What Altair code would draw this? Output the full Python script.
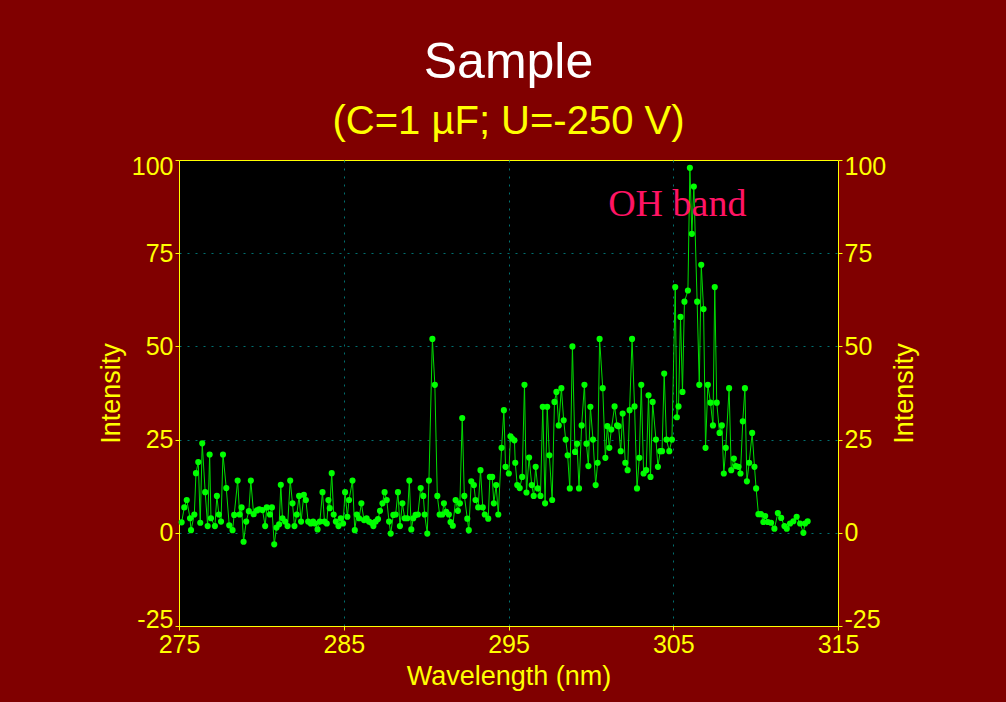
import altair as alt
import pandas as pd

wavelength = [
    275.16, 275.32, 275.47, 275.67, 275.73, 275.93, 276.03, 276.17, 276.29, 276.41,
    276.59, 276.74, 276.86, 276.94, 277.18, 277.30, 277.42, 277.55, 277.67, 277.87,
    278.05, 278.25, 278.35, 278.56, 278.68, 278.80, 278.92, 279.08, 279.24, 279.36,
    279.53, 279.73, 279.87, 280.07, 280.23, 280.33, 280.52, 280.64, 280.78, 280.92,
    281.08, 281.18, 281.28, 281.44, 281.59, 281.75, 281.89, 282.01, 282.15, 282.29,
    282.41, 282.58, 282.70, 282.84, 283.00, 283.14, 283.26, 283.41, 283.55, 283.71,
    283.83, 283.97, 284.07, 284.15, 284.27, 284.39, 284.52, 284.68, 284.82, 284.96,
    285.08, 285.22, 285.32, 285.53, 285.67, 285.79, 285.93, 286.07, 286.23, 286.39,
    286.53, 286.68, 286.80, 286.94, 287.08, 287.20, 287.35, 287.48, 287.61, 287.75,
    287.85, 288.01, 288.15, 288.29, 288.41, 288.56, 288.70, 288.86, 288.98, 289.10,
    289.22, 289.36, 289.50, 289.67, 289.83, 289.91, 290.07, 290.17, 290.38, 290.53,
    290.68, 290.82, 290.98, 291.08, 291.22, 291.38, 291.48, 291.62, 291.79, 291.93,
    292.05, 292.19, 292.32, 292.50, 292.59, 292.74, 292.90, 293.00, 293.16, 293.30,
    293.44, 293.56, 293.77, 293.87, 294.01, 294.11, 294.25, 294.38, 294.58, 294.72,
    294.82, 295.02, 295.12, 295.22, 295.36, 295.41, 295.53, 295.68, 295.83, 295.97,
    296.09, 296.25, 296.41, 296.53, 296.65, 296.78, 296.94, 297.08, 297.22, 297.35,
    297.48, 297.65, 297.79, 297.91, 298.05, 298.21, 298.35, 298.47, 298.59, 298.72,
    298.88, 299.04, 299.16, 299.28, 299.44, 299.61, 299.73, 299.85, 299.97, 300.13,
    300.29, 300.41, 300.53, 300.72, 300.88, 301.00, 301.12, 301.24, 301.44, 301.59,
    301.68, 301.81, 301.93, 302.09, 302.23, 302.35, 302.50, 302.65, 302.80, 302.94,
    303.06, 303.20, 303.36, 303.50, 303.62, 303.75, 303.95, 304.07, 304.21, 304.32,
    304.45, 304.59, 304.76, 304.92, 305.12, 305.22, 305.32, 305.44, 305.56, 305.68,
    305.89, 306.01, 306.13, 306.25, 306.45, 306.58, 306.70, 306.84, 306.96, 307.10,
    307.26, 307.41, 307.52, 307.64, 307.81, 307.95, 308.07, 308.19, 308.39, 308.52,
    308.68, 308.80, 308.96, 309.08, 309.22, 309.35, 309.47, 309.61, 309.79, 309.93,
    310.03, 310.17, 310.33, 310.47, 310.58, 310.74, 310.94, 311.14, 311.35, 311.55,
    311.75, 311.89, 312.09, 312.29, 312.49, 312.70, 312.90, 313.00, 313.16,
]

intensity = [
    2.8, 6.8, 8.8, 3.9, 0.7, 4.9, 16, 19, 2.7, 24,
    10.9, 1.8, 21, 3.9, 1.8, 9.9, 4.9, 3, 21, 12,
    2, 0.7, 4.8, 14, 4.9, 6.8, -2.4, 3, 5.8, 14,
    5, 6, 6.3, 6.1, 1.8, 6.8, 4.9, 6.8, -3.1, 1.4,
    2.3, 12.9, 3.9, 3, 1.8, 14, 7.9, 1.8, 4.9, 9.9,
    3, 10.2, 8.8, 3, 2.5, 3, 2.5, 0.9, 3, 10.9,
    3, 2.5, 8.8, 6.6, 16, 4.9, 3, 1.8, 3.9, 2.5,
    10.9, 4.3, 8.8, 14, 0.7, 4.9, 3.9, 7.9, 3.4, 3.9,
    3, 2.7, 1.8, 3, 3.7, 5.9, 7.9, 10.9, 8.8, 3,
    -0.2, 4.8, 4.9, 10.9, 1.8, 7.9, 3.9, 3.9, 14, 0.9,
    3.9, 4.8, 4.9, 12, 9.9, 4.9, -0.2, 14, 52, 39.7,
    9.9, 4.9, 4.9, 7.9, 5.6, 4.9, 2.9, 1.9, 8.8, 5.9,
    7.9, 30.8, 9.9, 3.8, 0.7, 13.8, 12.8, 8.8, 6.8, 16.8,
    6.8, 4.9, 3.8, 15, 15, 7.9, 12.8, 4.9, 22.8, 32.9,
    17.7, 15.9, 25.9, 25.3, 24.8, 18.8, 12.8, 12, 15, 39.7,
    10.8, 20.2, 12.8, 9.9, 17.7, 11.9, 9.9, 33.8, 7.9, 33.8,
    20.8, 8.8, 35.1, 37.8, 28.8, 38.8, 30.2, 25, 20.8, 11.9,
    50, 21.7, 23.9, 11.9, 28.8, 39.7, 23.9, 17.9, 33.8, 25,
    12.8, 18.8, 52, 38.8, 20.1, 28.6, 22.8, 27.7, 33.9, 28.8,
    28.6, 21.9, 32, 18.8, 16.8, 32.9, 52, 33.9, 11.9, 20.1,
    39.7, 15.9, 16.8, 36.9, 15, 35.1, 25, 17.7, 21.9, 21.9,
    42.7, 25, 21.9, 25, 65.9, 31, 33.9, 57.9, 37.8, 62,
    65, 97.9, 80.2, 92.9, 62, 39.7, 71.9, 60, 22.8, 39.7,
    34.9, 28.8, 65.9, 34.9, 26.8, 28.8, 15.9, 22.8, 38.8, 16.8,
    19.9, 17.9, 17.7, 15.9, 29.9, 38.8, 13.8, 18.8, 26.8, 17.7,
    11.9, 5, 5, 2.9, 4.5, 2.9, 2.7, 1.1, 5.3, 4,
    1.8, 1.1, 2.5, 3.1, 4.3, 2.5, 0, 2.5, 3.1,
]

x_ticks = [275, 285, 295, 305, 315]
y_ticks = [-25, 0, 25, 50, 75, 100]

annotation_text = ["OH band"]
annotation_x = [301.05]
annotation_y = [85]

df = pd.DataFrame({"wavelength": wavelength, "intensity": intensity})
ann = pd.DataFrame({"x": annotation_x, "y": annotation_y, "label": annotation_text})

FONT = "Liberation Sans"
YEL = "#ffff00"
LABEL_EXPR = "toString(datum.value)"
HIDE_EDGE_GRID = {"condition": {"test": "datum.value >= 100 || datum.value <= -25", "value": 0}, "value": 1}

x_scale = alt.Scale(domain=[275, 315], nice=False, zero=False)
y_scale = alt.Scale(domain=[-25, 100], nice=False, zero=False)

x_axis = alt.Axis(
    values=x_ticks, title="Wavelength (nm)", grid=True, labelExpr=LABEL_EXPR,
    labelFlush=False, labelOverlap=False,
)

line = alt.Chart(df).mark_line(color="#00dd00", strokeWidth=1).encode(
    x=alt.X("wavelength:Q", scale=x_scale, axis=x_axis),
    y=alt.Y("intensity:Q", scale=y_scale,
            axis=alt.Axis(values=y_ticks, title="Intensity", orient="left", grid=True,
                          gridOpacity=HIDE_EDGE_GRID, labelExpr=LABEL_EXPR,
                          labelFlush=True, labelFlushOffset=6, labelOverlap=False)),
)

points = alt.Chart(df).mark_circle(color="#00ff00", opacity=1, size=38).encode(
    x=alt.X("wavelength:Q", scale=x_scale, axis=x_axis),
    y=alt.Y("intensity:Q", scale=y_scale,
            axis=alt.Axis(values=y_ticks, title="Intensity", orient="right", grid=False,
                          titleAngle=270, titleBaseline="top", labelExpr=LABEL_EXPR,
                          labelFlush=True, labelFlushOffset=6, labelOverlap=False)),
)

label = alt.Chart(ann).mark_text(
    font="Liberation Serif", fontSize=38, color="#ff1464", align="left", baseline="alphabetic"
).encode(
    x=alt.X("x:Q", scale=x_scale, axis=x_axis),
    y=alt.Y("y:Q", scale=y_scale, axis=None),
    text="label:N",
)

chart = alt.layer(line, points, label).resolve_axis(y="independent").properties(
    width=659,
    height=466,
    autosize=alt.AutoSizeParams(type="none"),
    padding={"left": 179, "top": 160, "right": 168, "bottom": 76},
    background="#800000",
    title=alt.TitleParams(
        text="Sample",
        subtitle="(C=1 µF; U=-250 V)",
        font=FONT, fontSize=50, fontWeight="normal", color="white",
        subtitleFont=FONT, subtitleFontSize=40, subtitleColor=YEL,
        subtitlePadding=14, anchor="middle", offset=12,
    ),
).configure_view(
    fill="black", stroke=YEL, strokeWidth=1,
).configure_axis(
    labelFont=FONT, labelFontSize=25, labelColor=YEL,
    titleFont=FONT, titleFontSize=27, titleColor=YEL, titleFontWeight="normal",
    domainColor=YEL, tickColor=YEL, tickSize=4, labelPadding=2,
    gridColor="#007070", gridDash=[2, 6], gridWidth=1,
    titlePadding=6,
)

chart.save("out.html", embed_options={"renderer": "svg", "actions": False})
